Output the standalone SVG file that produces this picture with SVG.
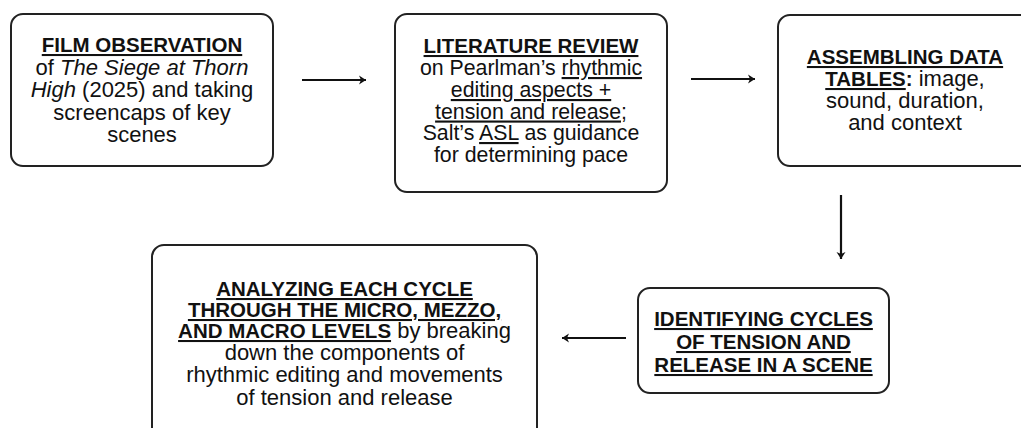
<svg xmlns="http://www.w3.org/2000/svg" width="1021" height="428" viewBox="0 0 1021 428">
<style>
.box{fill:#fff;stroke:#222;stroke-width:2}
text{font-family:"Liberation Sans",Arial,sans-serif;font-size:22px;fill:#111;text-anchor:middle}
.lr{font-size:21.3px}
.b{font-weight:bold;font-size:20.5px}
.u{text-decoration:underline}
.i{font-style:italic}
.conn{stroke:#111;stroke-width:2.2;fill:none}
</style>
<defs>
<marker id="ah" markerUnits="userSpaceOnUse" markerWidth="10" markerHeight="12" refX="8" refY="6" orient="auto">
<path d="M1,1.5 L8,6 L1,10.5 L3,6 Z" fill="#111"/>
</marker>
</defs>
<rect width="1021" height="428" fill="#fff"/>
<g id="connectors">
<line class="conn" x1="302" y1="80" x2="366" y2="80" marker-end="url(#ah)"/>
<line class="conn" x1="691" y1="79" x2="755" y2="79" marker-end="url(#ah)"/>
<line class="conn" x1="841" y1="195" x2="841" y2="259" marker-end="url(#ah)"/>
<line class="conn" x1="626" y1="338" x2="562" y2="338" marker-end="url(#ah)"/>
</g>
<g id="film-observation">
<rect class="box" x="11" y="14" width="262" height="152" rx="12"/>
<text x="142" y="52"><tspan class="b u">FILM OBSERVATION</tspan></text>
<text x="142" y="74.5">of <tspan class="i">The Siege at Thorn</tspan></text>
<text x="142" y="97"><tspan class="i">High</tspan> (2025) and taking</text>
<text x="142" y="119.5">screencaps of key</text>
<text x="142" y="142">scenes</text>
</g>
<g id="literature-review">
<rect class="box" x="395" y="14" width="272" height="178" rx="12"/>
<text x="531" y="53"><tspan class="b u">LITERATURE REVIEW</tspan></text>
<text class="lr" x="531" y="75">on Pearlman’s <tspan class="u">rhythmic</tspan></text>
<text class="lr" x="531" y="97"><tspan class="u">editing aspects +</tspan></text>
<text class="lr" x="531" y="118.5"><tspan class="u">tension and release</tspan>;</text>
<text class="lr" x="531" y="140">Salt’s <tspan class="u">ASL</tspan> as guidance</text>
<text class="lr" x="531" y="162">for determining pace</text>
</g>
<g id="assembling-data-tables">
<rect class="box" x="778" y="15" width="260" height="151" rx="12"/>
<text x="905" y="64"><tspan class="b u">ASSEMBLING DATA</tspan></text>
<text x="905" y="86"><tspan class="b u">TABLES</tspan><tspan class="b">:</tspan> image,</text>
<text x="905" y="108">sound, duration,</text>
<text x="905" y="130">and context</text>
</g>
<g id="identifying-cycles">
<rect class="box" x="638" y="288" width="251" height="105" rx="12"/>
<text x="763.5" y="326"><tspan class="b u">IDENTIFYING CYCLES</tspan></text>
<text x="763.5" y="349"><tspan class="b u">OF TENSION AND</tspan></text>
<text x="763.5" y="372"><tspan class="b u">RELEASE IN A SCENE</tspan></text>
</g>
<g id="analyzing-each-cycle">
<rect class="box" x="152" y="245" width="385" height="200" rx="12"/>
<text x="344.5" y="296"><tspan class="b u">ANALYZING EACH CYCLE</tspan></text>
<text x="344.5" y="317"><tspan class="b u">THROUGH THE MICRO, MEZZO,</tspan></text>
<text x="344.5" y="338"><tspan class="b u">AND MACRO LEVELS</tspan> by breaking</text>
<text x="344.5" y="360">down the components of</text>
<text x="344.5" y="382">rhythmic editing and movements</text>
<text x="344.5" y="405">of tension and release</text>
</g>
</svg>
